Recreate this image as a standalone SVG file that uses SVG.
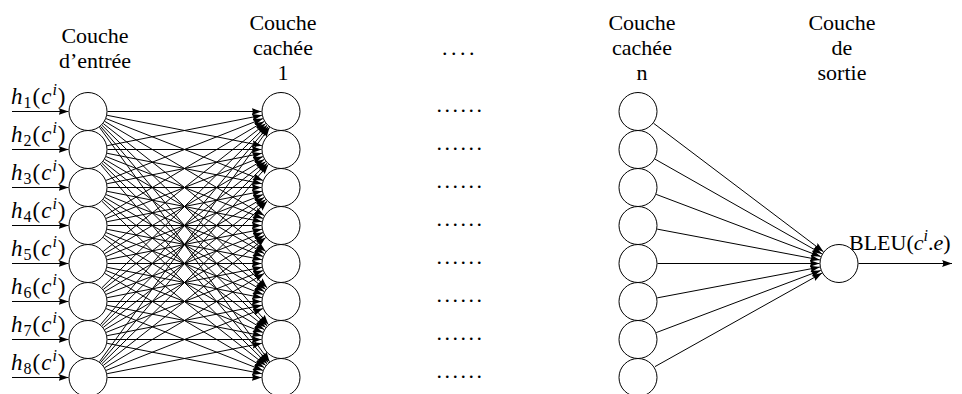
<svg xmlns="http://www.w3.org/2000/svg" width="962" height="394" viewBox="0 0 962 394">
<defs>
<style>
text{font-family:"Liberation Serif","DejaVu Serif",serif;font-size:22px;fill:#000}
.hd{text-anchor:middle}
.m{font-size:23px;letter-spacing:1px}
.i{font-style:italic}
.s{font-size:16px}
.dots{letter-spacing:2.5px}
.nd circle{fill:#fff;stroke:#000;stroke-width:1}
#connectors line{stroke:#000;stroke-width:1;marker-end:url(#ah)}
</style>
<marker id="ah" viewBox="0 0 10 7" refX="10" refY="3.5" markerWidth="10" markerHeight="7" markerUnits="userSpaceOnUse" orient="auto">
<path d="M0,0 Q2.5,3.5 0,7 L10,3.5 z" fill="#000"/>
</marker>
</defs>
<rect width="962" height="394" fill="#fff"/>

<g id="labels">
<text class="hd" x="95" y="43">Couche</text>
<text class="hd" x="95" y="68">d’entrée</text>
<text class="hd" x="283" y="30">Couche</text>
<text class="hd" x="283" y="55">cachée</text>
<text class="hd" x="283" y="80">1</text>
<text class="hd" x="642" y="30">Couche</text>
<text class="hd" x="642" y="55">cachée</text>
<text class="hd" x="642" y="80">n</text>
<text class="hd" x="842" y="30">Couche</text>
<text class="hd" x="842" y="55">de</text>
<text class="hd" x="842" y="80">sortie</text>
<text class="dots" x="442" y="55" style="letter-spacing:3.5px">....</text>
<text class="dots" x="436.5" y="111.5">......</text>
<text class="dots" x="436.5" y="149.5">......</text>
<text class="dots" x="436.5" y="187.5">......</text>
<text class="dots" x="436.5" y="225.5">......</text>
<text class="dots" x="436.5" y="263.5">......</text>
<text class="dots" x="436.5" y="301.5">......</text>
<text class="dots" x="436.5" y="339.5">......</text>
<text class="dots" x="436.5" y="377.5">......</text>
<text class="m" x="11" y="103.5"><tspan class="i">h</tspan><tspan class="s" dy="4">1</tspan><tspan dy="-4">(</tspan><tspan class="i">c</tspan><tspan class="s i" dy="-9">i</tspan><tspan dy="9">)</tspan></text>
<text class="m" x="11" y="141.5"><tspan class="i">h</tspan><tspan class="s" dy="4">2</tspan><tspan dy="-4">(</tspan><tspan class="i">c</tspan><tspan class="s i" dy="-9">i</tspan><tspan dy="9">)</tspan></text>
<text class="m" x="11" y="179.5"><tspan class="i">h</tspan><tspan class="s" dy="4">3</tspan><tspan dy="-4">(</tspan><tspan class="i">c</tspan><tspan class="s i" dy="-9">i</tspan><tspan dy="9">)</tspan></text>
<text class="m" x="11" y="217.5"><tspan class="i">h</tspan><tspan class="s" dy="4">4</tspan><tspan dy="-4">(</tspan><tspan class="i">c</tspan><tspan class="s i" dy="-9">i</tspan><tspan dy="9">)</tspan></text>
<text class="m" x="11" y="255.5"><tspan class="i">h</tspan><tspan class="s" dy="4">5</tspan><tspan dy="-4">(</tspan><tspan class="i">c</tspan><tspan class="s i" dy="-9">i</tspan><tspan dy="9">)</tspan></text>
<text class="m" x="11" y="293.5"><tspan class="i">h</tspan><tspan class="s" dy="4">6</tspan><tspan dy="-4">(</tspan><tspan class="i">c</tspan><tspan class="s i" dy="-9">i</tspan><tspan dy="9">)</tspan></text>
<text class="m" x="11" y="331.5"><tspan class="i">h</tspan><tspan class="s" dy="4">7</tspan><tspan dy="-4">(</tspan><tspan class="i">c</tspan><tspan class="s i" dy="-9">i</tspan><tspan dy="9">)</tspan></text>
<text class="m" x="11" y="369.5"><tspan class="i">h</tspan><tspan class="s" dy="4">8</tspan><tspan dy="-4">(</tspan><tspan class="i">c</tspan><tspan class="s i" dy="-9">i</tspan><tspan dy="9">)</tspan></text>
<text x="849" y="250">BLEU(<tspan class="i">c</tspan><tspan class="s i" dy="-9">i</tspan><tspan dy="9">.</tspan><tspan class="i">e</tspan>)</text>
</g>

<g id="connectors">
<line x1="12" y1="111.5" x2="68.5" y2="111.5"/>
<line x1="12" y1="149.5" x2="68.5" y2="149.5"/>
<line x1="12" y1="187.5" x2="68.5" y2="187.5"/>
<line x1="12" y1="225.5" x2="68.5" y2="225.5"/>
<line x1="12" y1="263.5" x2="68.5" y2="263.5"/>
<line x1="12" y1="301.5" x2="68.5" y2="301.5"/>
<line x1="12" y1="339.5" x2="68.5" y2="339.5"/>
<line x1="12" y1="377.5" x2="68.5" y2="377.5"/>

<line x1="107.5" y1="111.5" x2="261.5" y2="111.5"/>
<line x1="107.1" y1="115.3" x2="261.9" y2="145.7"/>
<line x1="106.1" y1="118.6" x2="262.9" y2="180.4"/>
<line x1="104.8" y1="121.4" x2="264.2" y2="215.6"/>
<line x1="103.3" y1="123.6" x2="265.7" y2="251.4"/>
<line x1="101.9" y1="125.2" x2="267.1" y2="287.8"/>
<line x1="100.6" y1="126.4" x2="268.4" y2="324.6"/>
<line x1="99.5" y1="127.3" x2="269.6" y2="361.7"/>

<line x1="107.1" y1="145.7" x2="261.9" y2="115.3"/>
<line x1="107.5" y1="149.5" x2="261.5" y2="149.5"/>
<line x1="107.1" y1="153.3" x2="261.9" y2="183.7"/>
<line x1="106.1" y1="156.6" x2="262.9" y2="218.4"/>
<line x1="104.8" y1="159.4" x2="264.2" y2="253.6"/>
<line x1="103.3" y1="161.6" x2="265.7" y2="289.4"/>
<line x1="101.9" y1="163.2" x2="267.1" y2="325.8"/>
<line x1="100.6" y1="164.4" x2="268.4" y2="362.6"/>

<line x1="106.1" y1="180.4" x2="262.9" y2="118.6"/>
<line x1="107.1" y1="183.7" x2="261.9" y2="153.3"/>
<line x1="107.5" y1="187.5" x2="261.5" y2="187.5"/>
<line x1="107.1" y1="191.3" x2="261.9" y2="221.7"/>
<line x1="106.1" y1="194.6" x2="262.9" y2="256.4"/>
<line x1="104.8" y1="197.4" x2="264.2" y2="291.6"/>
<line x1="103.3" y1="199.6" x2="265.7" y2="327.4"/>
<line x1="101.9" y1="201.2" x2="267.1" y2="363.8"/>

<line x1="104.8" y1="215.6" x2="264.2" y2="121.4"/>
<line x1="106.1" y1="218.4" x2="262.9" y2="156.6"/>
<line x1="107.1" y1="221.7" x2="261.9" y2="191.3"/>
<line x1="107.5" y1="225.5" x2="261.5" y2="225.5"/>
<line x1="107.1" y1="229.3" x2="261.9" y2="259.7"/>
<line x1="106.1" y1="232.6" x2="262.9" y2="294.4"/>
<line x1="104.8" y1="235.4" x2="264.2" y2="329.6"/>
<line x1="103.3" y1="237.6" x2="265.7" y2="365.4"/>

<line x1="103.3" y1="251.4" x2="265.7" y2="123.6"/>
<line x1="104.8" y1="253.6" x2="264.2" y2="159.4"/>
<line x1="106.1" y1="256.4" x2="262.9" y2="194.6"/>
<line x1="107.1" y1="259.7" x2="261.9" y2="229.3"/>
<line x1="107.5" y1="263.5" x2="261.5" y2="263.5"/>
<line x1="107.1" y1="267.3" x2="261.9" y2="297.7"/>
<line x1="106.1" y1="270.6" x2="262.9" y2="332.4"/>
<line x1="104.8" y1="273.4" x2="264.2" y2="367.6"/>

<line x1="101.9" y1="287.8" x2="267.1" y2="125.2"/>
<line x1="103.3" y1="289.4" x2="265.7" y2="161.6"/>
<line x1="104.8" y1="291.6" x2="264.2" y2="197.4"/>
<line x1="106.1" y1="294.4" x2="262.9" y2="232.6"/>
<line x1="107.1" y1="297.7" x2="261.9" y2="267.3"/>
<line x1="107.5" y1="301.5" x2="261.5" y2="301.5"/>
<line x1="107.1" y1="305.3" x2="261.9" y2="335.7"/>
<line x1="106.1" y1="308.6" x2="262.9" y2="370.4"/>

<line x1="100.6" y1="324.6" x2="268.4" y2="126.4"/>
<line x1="101.9" y1="325.8" x2="267.1" y2="163.2"/>
<line x1="103.3" y1="327.4" x2="265.7" y2="199.6"/>
<line x1="104.8" y1="329.6" x2="264.2" y2="235.4"/>
<line x1="106.1" y1="332.4" x2="262.9" y2="270.6"/>
<line x1="107.1" y1="335.7" x2="261.9" y2="305.3"/>
<line x1="107.5" y1="339.5" x2="261.5" y2="339.5"/>
<line x1="107.1" y1="343.3" x2="261.9" y2="373.7"/>

<line x1="99.5" y1="361.7" x2="269.6" y2="127.3"/>
<line x1="100.6" y1="362.6" x2="268.4" y2="164.4"/>
<line x1="101.9" y1="363.8" x2="267.1" y2="201.2"/>
<line x1="103.3" y1="365.4" x2="265.7" y2="237.6"/>
<line x1="104.8" y1="367.6" x2="264.2" y2="273.4"/>
<line x1="106.1" y1="370.4" x2="262.9" y2="308.6"/>
<line x1="107.1" y1="373.7" x2="261.9" y2="343.3"/>
<line x1="107.5" y1="377.5" x2="261.5" y2="377.5"/>

<line x1="653.55" y1="123.26" x2="823.45" y2="251.74"/>
<line x1="654.96" y1="159.12" x2="822.04" y2="253.88"/>
<line x1="656.24" y1="194.4" x2="820.76" y2="256.6"/>
<line x1="657.16" y1="229.12" x2="819.84" y2="259.88"/>
<line x1="657.5" y1="263.5" x2="819.5" y2="263.5"/>
<line x1="657.16" y1="297.88" x2="819.84" y2="267.12"/>
<line x1="656.24" y1="332.6" x2="820.76" y2="270.4"/>
<line x1="654.96" y1="366.62" x2="822.04" y2="273.12"/>

<line x1="858.5" y1="263.5" x2="952" y2="263.5"/>
</g>

<g id="input-layer" class="nd">
<g id="in1"><circle cx="88" cy="111.5" r="19"/></g>
<g id="in2"><circle cx="88" cy="149.5" r="19"/></g>
<g id="in3"><circle cx="88" cy="187.5" r="19"/></g>
<g id="in4"><circle cx="88" cy="225.5" r="19"/></g>
<g id="in5"><circle cx="88" cy="263.5" r="19"/></g>
<g id="in6"><circle cx="88" cy="301.5" r="19"/></g>
<g id="in7"><circle cx="88" cy="339.5" r="19"/></g>
<g id="in8"><circle cx="88" cy="377.5" r="19"/></g>
</g>
<g id="hidden1-layer" class="nd">
<g id="h1n1"><circle cx="281" cy="111.5" r="19"/></g>
<g id="h1n2"><circle cx="281" cy="149.5" r="19"/></g>
<g id="h1n3"><circle cx="281" cy="187.5" r="19"/></g>
<g id="h1n4"><circle cx="281" cy="225.5" r="19"/></g>
<g id="h1n5"><circle cx="281" cy="263.5" r="19"/></g>
<g id="h1n6"><circle cx="281" cy="301.5" r="19"/></g>
<g id="h1n7"><circle cx="281" cy="339.5" r="19"/></g>
<g id="h1n8"><circle cx="281" cy="377.5" r="19"/></g>
</g>
<g id="hiddenN-layer" class="nd">
<g id="hnn1"><circle cx="638" cy="111.5" r="19"/></g>
<g id="hnn2"><circle cx="638" cy="149.5" r="19"/></g>
<g id="hnn3"><circle cx="638" cy="187.5" r="19"/></g>
<g id="hnn4"><circle cx="638" cy="225.5" r="19"/></g>
<g id="hnn5"><circle cx="638" cy="263.5" r="19"/></g>
<g id="hnn6"><circle cx="638" cy="301.5" r="19"/></g>
<g id="hnn7"><circle cx="638" cy="339.5" r="19"/></g>
<g id="hnn8"><circle cx="638" cy="377.5" r="19"/></g>
</g>
<g id="output-layer" class="nd">
<g id="out"><circle cx="839" cy="263.5" r="19"/></g>
</g>
</svg>
